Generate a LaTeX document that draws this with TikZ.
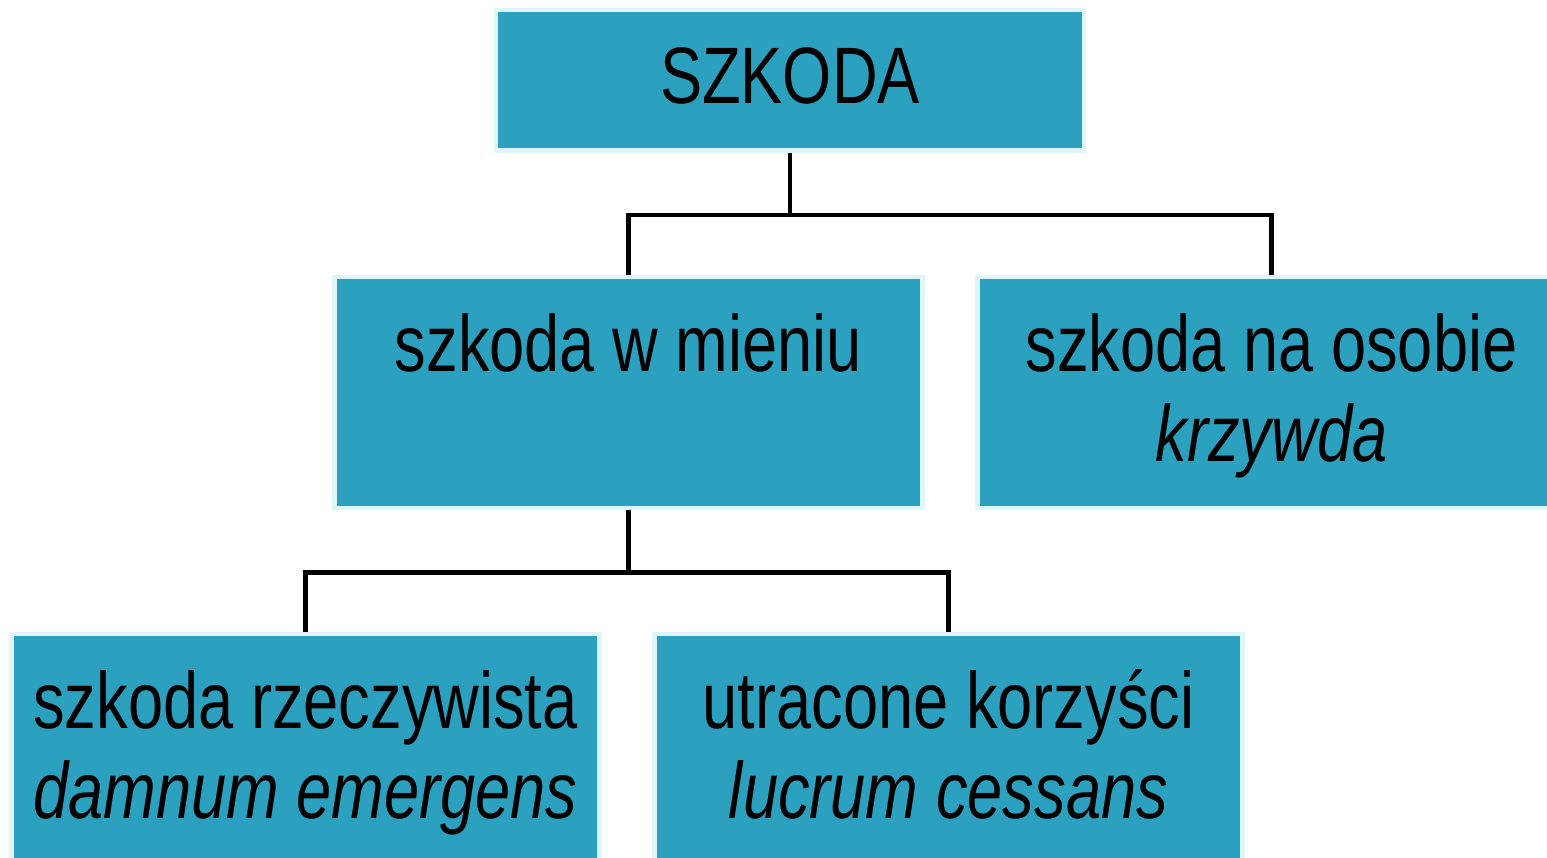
\documentclass[tikz,border=0pt]{standalone}
\usepackage{fontspec}
\setmainfont{Liberation Sans}[FakeStretch=0.79]
\usetikzlibrary{backgrounds}
\definecolor{boxfill}{HTML}{2CA1BF}
\definecolor{boxedge}{HTML}{DEF5F9}
\newcommand{\topline}{\rule{0pt}{80pt}}
\newcommand{\botline}{\rule[-33pt]{0pt}{33pt}}
\tikzset{
  box/.style={draw=boxedge, fill=boxfill, line width=4.5pt, inner sep=0pt,
    minimum width=588pt, align=center, font=\fontsize{80}{90}\selectfont},
  tall/.style={box, minimum height=231pt},
  link/.style={draw=black, line width=4.5pt}
}
\begin{document}
\begin{tikzpicture}[x=1pt,y=-1pt]
\useasboundingbox (0,0) rectangle (1547,858);
\clip (0,0) rectangle (1547,858);
\node[box, minimum height=140.5pt, text height=57pt, text depth=10pt] (b1) at (790,80.5) {SZKODA};
\node[tall] (b2) at (628.5,392.5) {\topline szkoda w mieniu\\\botline};
\node[tall] (b3) at (1271.5,392.5) {\topline szkoda na osobie\\\botline\textit{krzywda}};
\node[tall] (b4) at (305.5,749.5) {\topline szkoda rzeczywista\\\botline\textit{damnum emergens}};
\node[tall] (b5) at (948.5,749.5) {\topline utracone korzyści\\\botline\textit{lucrum cessans}};
\begin{scope}[on background layer]
\draw[link] (b1.south) -- ++(0,62) coordinate (j1);
\draw[link] (b2.north) |- (j1) -| (b3.north);
\draw[link] (b2.south) -- ++(0,62.25) coordinate (j2);
\draw[link] (b4.north) |- (j2) -| (b5.north);
\end{scope}
\end{tikzpicture}
\end{document}
